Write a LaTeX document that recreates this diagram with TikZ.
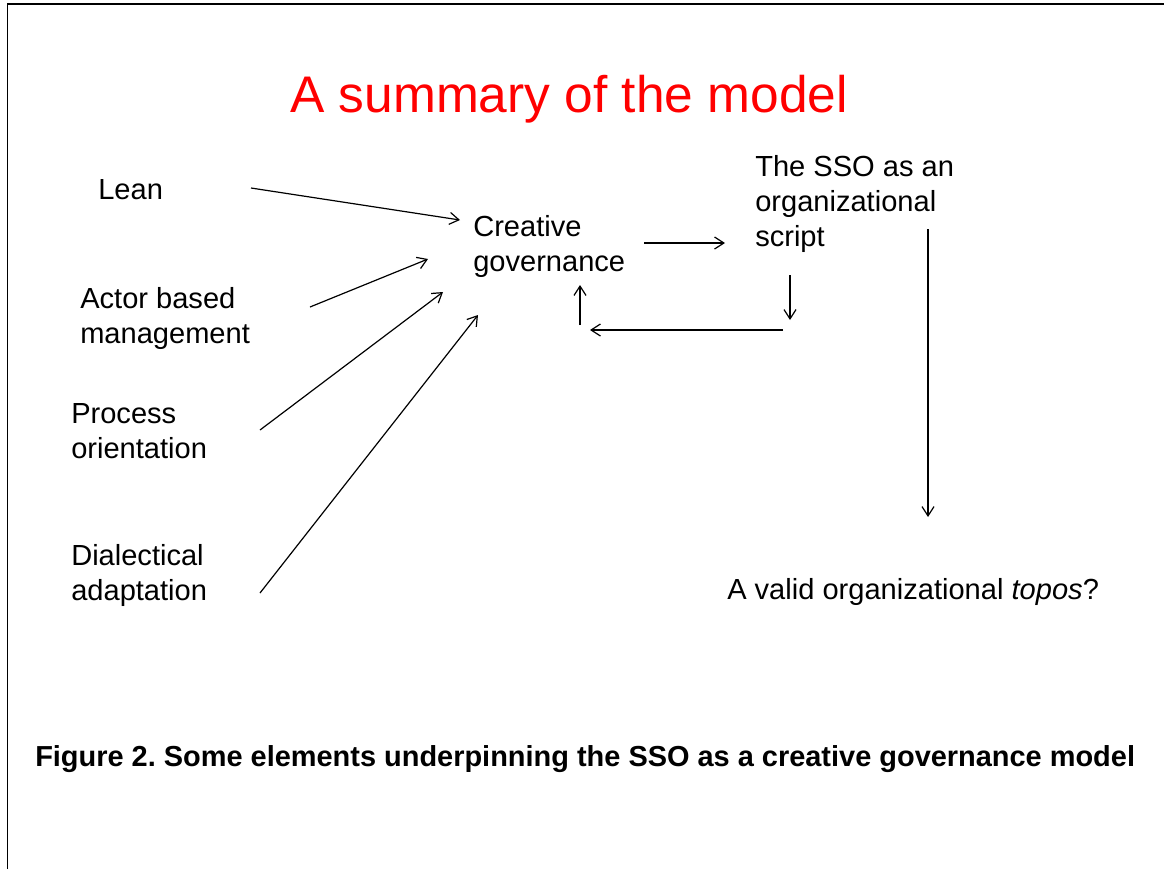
\documentclass[tikz,border=0pt]{standalone}
\usepackage{fontspec}
\setmainfont{Liberation Sans}
\usetikzlibrary{arrows.meta}
\frenchspacing

\begin{document}
\begin{tikzpicture}[x=0.75pt,y=0.75pt,yscale=-1,xscale=1,
    lbl/.style={anchor=base west,inner sep=0pt,align=left,font=\fontsize{21.8}{26}\selectfont},
    arr/.style={line width=0.9pt,-{Straight Barb[length=7pt,width=9pt]}}]
    \useasboundingbox (0,0) rectangle (1164,869);

    %Frame
    \draw [line width=1.2pt]  (7.5,869) -- (7.5,4.2) -- (1164,4.2) ;

    % Title
    \node (title) [anchor=base west,inner sep=0pt,text={rgb,255:red,255;green,0;blue,0},font=\fontsize{38.6}{46}\selectfont] at (290,112) {A summary of the model};

    % Text Nodes (base = last line)
    \node (lean) [lbl] at (98,199) {Lean};
    \node (actor) [lbl] at (80,343) {Actor based\\management};
    \node (process) [lbl] at (71,458) {Process\\orientation};
    \node (dialect) [lbl] at (71,600) {Dialectical\\adaptation};
    \node (cg) [lbl] at (473,271) {Creative\\governance};
    \node (sso) [lbl] at (755,246) {The SSO as an\\organizational\\script};
    \node (topos) [lbl] at (727,599) {A valid organizational \textit{topos}?};

    % Caption
    \node (caption) [anchor=base west,inner sep=0pt,font=\bfseries\fontsize{21.7}{26}\selectfont] at (35,766) {Figure 2. Some elements underpinning the SSO as a creative governance model};

    % Arrow ends
    \coordinate (leanA) at (251,188);
    \coordinate (leanB) at (460,220);
    \coordinate (actorA) at (310,307);
    \coordinate (actorB) at (428,259);
    \coordinate (processA) at (260,430);
    \coordinate (processB) at (443,292);
    \coordinate (dialectA) at (260,593);
    \coordinate (dialectB) at (478,315);
    \coordinate (cgA) at (644,243);
    \coordinate (cgB) at (725,243);
    \coordinate (ssoA) at (790,275);
    \coordinate (ssoB) at (790,320);
    \coordinate (backA) at (783,330);
    \coordinate (backB) at (590,330);
    \coordinate (upA) at (580,325);
    \coordinate (upB) at (580,285);
    \coordinate (toposA) at (928,229);
    \coordinate (toposB) at (928,517);

    %Straight Lines
    \draw [arr] (leanA) -- (leanB) ;
    \draw [arr] (actorA) -- (actorB) ;
    \draw [arr] (processA) -- (processB) ;
    \draw [arr] (dialectA) -- (dialectB) ;
    \draw [arr] (cgA) -- (cgB) ;
    \draw [arr] (ssoA) -- (ssoB) ;
    \draw [arr] (backA) -- (backB) ;
    \draw [arr] (upA) -- (upB) ;
    \draw [arr] (toposA) -- (toposB) ;

\end{tikzpicture}
\end{document}
